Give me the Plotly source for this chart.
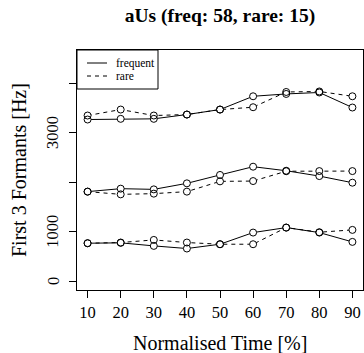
import plotly.graph_objects as go

# ---- data ----
time_pct = [10, 20, 30, 40, 50, 60, 70, 80, 90]
f1_freq = [767, 775, 713, 660, 747, 983, 1084, 983, 794]
f1_rare = [767, 781, 834, 781, 747, 747, 1084, 990, 1037]
f2_freq = [1812, 1872, 1858, 1980, 2150, 2317, 2235, 2127, 1993]
f2_rare = [1812, 1757, 1771, 1812, 2020, 2026, 2225, 2228, 2228]
f3_freq = [3272, 3286, 3286, 3373, 3474, 3743, 3790, 3820, 3515]
f3_rare = [3353, 3474, 3353, 3373, 3474, 3521, 3830, 3840, 3743]
y_tickvals = [0, 1000, 2000, 3000, 4000]
y_ticktext = ["0", "1000", "", "3000", ""]
x_tickvals = [10, 20, 30, 40, 50, 60, 70, 80, 90]
title_text = "aUs (freq: 58, rare: 15)"
legend_labels = ["frequent", "rare"]

FONT = "Liberation Serif"
fig = go.Figure()

freq_series = [f1_freq, f2_freq, f3_freq]
rare_series = [f1_rare, f2_rare, f3_rare]

# lines
for s in freq_series:
    fig.add_trace(go.Scatter(x=time_pct, y=s, mode="lines",
                             line=dict(color="black", width=1), showlegend=False, hoverinfo="skip"))
for s in rare_series:
    fig.add_trace(go.Scatter(x=time_pct, y=s, mode="lines",
                             line=dict(color="black", width=1, dash="4px,4px"), showlegend=False, hoverinfo="skip"))
# white-filled markers to hide lines inside circles
for s in freq_series + rare_series:
    fig.add_trace(go.Scatter(x=time_pct, y=s, mode="markers",
                             marker=dict(symbol="circle", size=7, color="white", line=dict(width=0)),
                             showlegend=False, hoverinfo="skip"))
# open circle outlines on top
for s in freq_series + rare_series:
    fig.add_trace(go.Scatter(x=time_pct, y=s, mode="markers",
                             marker=dict(symbol="circle-open", size=7, color="black", line=dict(width=1)),
                             showlegend=False))

L, R, T, B = 77, 1, 50, 63
W, H = 364, 353
pw, ph = W - L - R, H - T - B

def px2x(px):
    return (px - L) / pw

def px2y(py):
    return (H - B - py) / ph

shapes = [
    dict(type="rect", xref="paper", yref="paper", x0=0, x1=px2x(158), y0=px2y(89), y1=1,
         line=dict(color="black", width=1), fillcolor="white", layer="above"),
    dict(type="line", xref="paper", yref="paper", x0=px2x(87), x1=px2x(107), y0=px2y(63), y1=px2y(63),
         line=dict(color="black", width=1), layer="above"),
    dict(type="line", xref="paper", yref="paper", x0=px2x(87), x1=px2x(107), y0=px2y(76), y1=px2y(76),
         line=dict(color="black", width=1, dash="4px,4px"), layer="above"),
]

annotations = [
    dict(text=legend_labels[0], xref="paper", yref="paper", x=px2x(114), y=px2y(63), xanchor="left",
         yanchor="middle", showarrow=False, font=dict(family=FONT, size=11.5, color="black")),
    dict(text=legend_labels[1], xref="paper", yref="paper", x=px2x(114), y=px2y(76), xanchor="left",
         yanchor="middle", showarrow=False, font=dict(family=FONT, size=11.5, color="black")),
    dict(text="Normalised Time [%]", xref="paper", yref="paper", x=0.5, y=px2y(343), xanchor="center",
         yanchor="middle", showarrow=False, font=dict(family=FONT, size=20, color="black")),
    dict(text="First 3 Formants [Hz]", xref="paper", yref="paper", x=px2x(19), y=0.5, xanchor="center",
         yanchor="middle", textangle=-90, showarrow=False, font=dict(family=FONT, size=20, color="black")),
]
# y tick labels (R style, rotated), placed at the tick values on the y axis
for v, t in zip(y_tickvals, y_ticktext):
    if t:
        annotations.append(dict(text=t, xref="paper", yref="y", x=px2x(53), y=v, xanchor="center",
                                yanchor="middle", textangle=-90, showarrow=False,
                                font=dict(family=FONT, size=16.5, color="black")))

fig.update_layout(
    width=W, height=H,
    margin=dict(l=L, r=R, t=T, b=B, pad=0),
    paper_bgcolor="white", plot_bgcolor="white",
    title=dict(text="<b>" + title_text + "</b>", x=0.5, xref="paper", xanchor="center",
               y=1 - 15 / H, yref="container", yanchor="middle",
               font=dict(family=FONT, size=19.5, color="black")),
    shapes=shapes, annotations=annotations,
    showlegend=False,
    xaxis=dict(range=[6.8, 93.2], tickvals=x_tickvals, ticks="outside", ticklen=7, tickcolor="black",
               showline=True, mirror=True, linecolor="black", linewidth=1, showgrid=False, zeroline=False,
               tickfont=dict(family=FONT, size=16.5, color="black"), ticklabelstandoff=0),
    yaxis=dict(range=[-180, 4680], tickvals=y_tickvals, ticks="outside", ticklen=7,
               tickcolor="black", showticklabels=False,
               showline=True, mirror=True, linecolor="black", linewidth=1, showgrid=False, zeroline=False),
)

fig.write_html("out.html", config={"displayModeBar": False},
               post_script="document.body.style.margin='0px';document.body.style.overflow='hidden';")
